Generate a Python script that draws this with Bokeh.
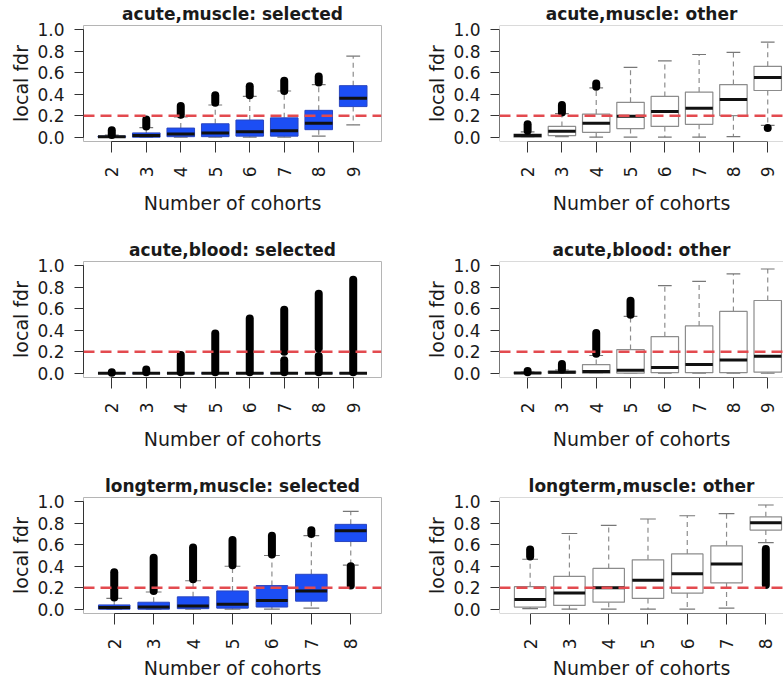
from bokeh.plotting import figure
from bokeh.models import Range1d, FixedTicker, NumeralTickFormatter, Span
from bokeh.layouts import column, row
from bokeh.embed import file_html
from bokeh.resources import INLINE
import math

# ---------------- data ----------------
cohorts_9 = ["2", "3", "4", "5", "6", "7", "8", "9"]
cohorts_8 = ["2", "3", "4", "5", "6", "7", "8"]

# acute, muscle: selected
am_sel_q1 = [0.00, 0.00, 0.005, 0.005, 0.01, 0.01, 0.07, 0.285]
am_sel_med = [0.005, 0.015, 0.03, 0.04, 0.05, 0.06, 0.13, 0.363]
am_sel_q3 = [0.01, 0.04, 0.085, 0.125, 0.16, 0.18, 0.25, 0.48]
am_sel_wlo = [0.0, 0.0, 0.0, 0.0, 0.0, 0.0, 0.01, 0.115]
am_sel_whi = [0.02, 0.09, 0.19, 0.30, 0.38, 0.43, 0.49, 0.754]
am_sel_out_cat = ["2", "3", "4", "5", "6", "7", "8"]
am_sel_out_lo = [0.02, 0.10, 0.21, 0.32, 0.39, 0.43, 0.51]
am_sel_out_hi = [0.065, 0.165, 0.29, 0.39, 0.475, 0.525, 0.565]

# acute, muscle: other
am_oth_q1 = [0.0, 0.015, 0.045, 0.08, 0.10, 0.12, 0.20, 0.435]
am_oth_med = [0.015, 0.055, 0.13, 0.195, 0.24, 0.27, 0.35, 0.555]
am_oth_q3 = [0.03, 0.10, 0.215, 0.325, 0.38, 0.42, 0.49, 0.66]
am_oth_wlo = [0.0, 0.005, 0.0, 0.0, 0.0, 0.0, 0.005, 0.11]
am_oth_whi = [0.05, 0.22, 0.46, 0.65, 0.71, 0.77, 0.79, 0.885]
am_oth_out_cat = ["2", "3", "4", "9"]
am_oth_out_lo = [0.06, 0.23, 0.47, 0.085]
am_oth_out_hi = [0.12, 0.30, 0.50, 0.085]

# acute, blood: selected
ab_sel_q1 = [0.0, 0.0, 0.0, 0.0, 0.0, 0.0, 0.0, 0.0]
ab_sel_med = [0.0, 0.0, 0.0, 0.0, 0.0, 0.0, 0.0, 0.0]
ab_sel_q3 = [0.0, 0.0, 0.0, 0.0, 0.0, 0.0, 0.0, 0.0]
ab_sel_wlo = [0.0, 0.0, 0.0, 0.0, 0.0, 0.0, 0.0, 0.0]
ab_sel_whi = [0.0, 0.0, 0.0, 0.0, 0.0, 0.0, 0.0, 0.0]
ab_sel_out_cat = ["2", "3", "4", "5", "6", "7", "7", "8", "8", "9"]
ab_sel_out_lo = [0.005, 0.01, 0.01, 0.01, 0.01, 0.01, 0.20, 0.01, 0.23, 0.01]
ab_sel_out_hi = [0.01, 0.035, 0.17, 0.37, 0.51, 0.12, 0.59, 0.16, 0.74, 0.87]

# acute, blood: other
ab_oth_q1 = [0.0, 0.0, 0.0, 0.0, 0.005, 0.005, 0.005, 0.01]
ab_oth_med = [0.003, 0.01, 0.015, 0.028, 0.052, 0.08, 0.122, 0.157]
ab_oth_q3 = [0.005, 0.02, 0.08, 0.22, 0.34, 0.44, 0.575, 0.677]
ab_oth_wlo = [0.0, 0.0, 0.0, 0.0, 0.0, 0.0, 0.0, 0.0]
ab_oth_whi = [0.01, 0.03, 0.165, 0.53, 0.815, 0.855, 0.924, 0.97]
ab_oth_out_cat = ["2", "3", "4", "5"]
ab_oth_out_lo = [0.01, 0.035, 0.18, 0.545]
ab_oth_out_hi = [0.02, 0.085, 0.375, 0.675]

# longterm, muscle: selected
lm_sel_q1 = [0.0, 0.0, 0.005, 0.01, 0.02, 0.075, 0.63]
lm_sel_med = [0.015, 0.02, 0.03, 0.045, 0.08, 0.17, 0.73]
lm_sel_q3 = [0.04, 0.065, 0.115, 0.17, 0.22, 0.325, 0.79]
lm_sel_wlo = [0.0, 0.0, 0.0, 0.0, 0.0, 0.01, 0.41]
lm_sel_whi = [0.10, 0.16, 0.265, 0.40, 0.50, 0.685, 0.91]
lm_sel_out_cat = ["2", "3", "4", "5", "6", "7", "8"]
lm_sel_out_lo = [0.11, 0.17, 0.28, 0.41, 0.51, 0.70, 0.22]
lm_sel_out_hi = [0.345, 0.48, 0.575, 0.645, 0.685, 0.735, 0.40]

# longterm, muscle: other
lm_oth_q1 = [0.02, 0.035, 0.065, 0.10, 0.15, 0.245, 0.737]
lm_oth_med = [0.09, 0.15, 0.20, 0.27, 0.33, 0.42, 0.805]
lm_oth_q3 = [0.21, 0.305, 0.38, 0.46, 0.515, 0.59, 0.86]
lm_oth_wlo = [0.005, 0.0, 0.0, 0.0, 0.0, 0.01, 0.62]
lm_oth_whi = [0.465, 0.705, 0.78, 0.84, 0.87, 0.89, 0.97]
lm_oth_out_cat = ["2", "8"]
lm_oth_out_lo = [0.49, 0.225]
lm_oth_out_hi = [0.555, 0.56]

threshold = 0.2
y_ticks = [0.0, 0.2, 0.4, 0.6, 0.8, 1.0]

# ---------------- styling ----------------
FONT = "DejaVu Sans"
BLUE = "#1c4ef4"
BLUE_EDGE = "#2a46c0"
GREY = "#8c8c8c"
FRAME = "#b5b5b5"
TXT = "#1a1a1a"


def make_panel(title, cats, q1, med, q3, wlo, whi, oc, olo, ohi, selected,
               width, height, mbl, mbr, mbb, x_start, x_end, right_side, xlab_standoff):
    p = figure(width=width, height=height,
               x_range=Range1d(x_start, x_end), y_range=Range1d(-0.04, 1.04),
               output_backend="svg", toolbar_location=None,
               min_border_left=mbl, min_border_right=mbr,
               min_border_top=25, min_border_bottom=mbb)
    p.grid.visible = False
    p.background_fill_color = "white"
    p.border_fill_color = "white"
    if right_side:
        p.outline_line_color = None
        for loc in (1.04, -0.04):
            p.add_layout(Span(location=loc, dimension="width", line_color=FRAME, line_width=1))
        p.add_layout(Span(location=x_start, dimension="height", line_color=FRAME, line_width=1))
    else:
        p.outline_line_color = FRAME
        p.outline_line_width = 1

    p.title.text = title
    p.title.text_font = FONT
    p.title.text_font_size = "17px"
    p.title.text_font_style = "bold"
    p.title.text_color = TXT
    p.title.align = "center"
    p.title.standoff = 3

    n = len(cats)
    xs = [cats.index(c) + 1 for c in cats]
    left = [x - 0.4 for x in xs]
    right = [x + 0.4 for x in xs]
    cl = [x - 0.2 for x in xs]
    cr = [x + 0.2 for x in xs]

    # whiskers (dashed)
    p.segment(x0=xs, y0=q3, x1=xs, y1=whi, line_color=GREY, line_width=1.2, line_dash="5 4")
    p.segment(x0=xs, y0=q1, x1=xs, y1=wlo, line_color=GREY, line_width=1.2, line_dash="5 4")
    # staples
    p.segment(x0=cl, y0=whi, x1=cr, y1=whi, line_color="#777777", line_width=1.2)
    p.segment(x0=cl, y0=wlo, x1=cr, y1=wlo, line_color="#777777", line_width=1.2)
    # boxes
    if selected:
        p.quad(left=left, right=right, bottom=q1, top=q3, fill_color=BLUE,
               line_color=BLUE_EDGE, line_width=1)
    else:
        p.quad(left=left, right=right, bottom=q1, top=q3, fill_color="white",
               line_color=GREY, line_width=1.2)
    # medians
    p.segment(x0=left, y0=med, x1=right, y1=med, line_color="#111111", line_width=3)
    # outliers (dense columns of points)
    ox = [cats.index(c) + 1 for c in oc]
    p.segment(x0=ox, y0=olo, x1=ox, y1=ohi, line_color="black", line_width=8,
              line_cap="round")

    # threshold line
    p.add_layout(Span(location=threshold, dimension="width", line_color="#e34a4f",
                      line_width=2.5, line_dash="11 6"))

    # x axis
    xa = p.xaxis[0]
    xa.ticker = FixedTicker(ticks=xs)
    xa.major_label_overrides = {x: c for x, c in zip(xs, cats)}
    xa.bounds = (1, n)
    xa.major_label_orientation = math.pi / 2
    xa.axis_label = "Number of cohorts"
    xa.axis_label_text_font = FONT
    xa.axis_label_text_font_size = "19px"
    xa.axis_label_text_font_style = "normal"
    xa.axis_label_text_color = TXT
    xa.axis_label_standoff = xlab_standoff
    xa.major_label_text_font = FONT
    xa.major_label_text_font_size = "17px"
    xa.major_label_text_color = TXT
    xa.major_label_standoff = 14
    xa.major_tick_out = 11
    xa.major_tick_in = 0
    xa.minor_tick_out = 0
    xa.minor_tick_in = 0
    xa.axis_line_color = "#333333"
    xa.major_tick_line_color = "#333333"

    # y axis
    ya = p.yaxis[0]
    ya.ticker = FixedTicker(ticks=y_ticks)
    ya.formatter = NumeralTickFormatter(format="0.0")
    ya.bounds = (0, 1)
    ya.axis_label = "local fdr"
    ya.axis_label_text_font = FONT
    ya.axis_label_text_font_size = "19px"
    ya.axis_label_text_font_style = "normal"
    ya.axis_label_text_color = TXT
    ya.axis_label_standoff = 2
    ya.major_label_text_font = FONT
    ya.major_label_text_font_size = "17px"
    ya.major_label_text_color = TXT
    ya.major_label_standoff = 10
    ya.major_tick_out = 9
    ya.major_tick_in = 0
    ya.minor_tick_out = 0
    ya.minor_tick_in = 0
    ya.axis_line_color = "#333333"
    ya.major_tick_line_color = "#333333"
    return p


LW, RW = 392, 391
H1, H2, H3 = 236, 236, 214

p1 = make_panel("acute,muscle: selected", cohorts_9, am_sel_q1, am_sel_med, am_sel_q3,
                am_sel_wlo, am_sel_whi, am_sel_out_cat, am_sel_out_lo, am_sel_out_hi, True,
                LW, H1, 83, 11, 95, 0.18, 8.82, False, 12)
p2 = make_panel("acute,muscle: other", cohorts_9, am_oth_q1, am_oth_med, am_oth_q3,
                am_oth_wlo, am_oth_whi, am_oth_out_cat, am_oth_out_lo, am_oth_out_hi, False,
                RW, H1, 107, 0, 95, 0.18, 8.46, True, 12)
p3 = make_panel("acute,blood: selected", cohorts_9, ab_sel_q1, ab_sel_med, ab_sel_q3,
                ab_sel_wlo, ab_sel_whi, ab_sel_out_cat, ab_sel_out_lo, ab_sel_out_hi, True,
                LW, H2, 83, 11, 95, 0.18, 8.82, False, 12)
p4 = make_panel("acute,blood: other", cohorts_9, ab_oth_q1, ab_oth_med, ab_oth_q3,
                ab_oth_wlo, ab_oth_whi, ab_oth_out_cat, ab_oth_out_lo, ab_oth_out_hi, False,
                RW, H2, 107, 0, 95, 0.18, 8.46, True, 12)
p5 = make_panel("longterm,muscle: selected", cohorts_8, lm_sel_q1, lm_sel_med, lm_sel_q3,
                lm_sel_wlo, lm_sel_whi, lm_sel_out_cat, lm_sel_out_lo, lm_sel_out_hi, True,
                LW, H3, 83, 11, 73, 0.22, 7.78, False, 5)
p6 = make_panel("longterm,muscle: other", cohorts_8, lm_oth_q1, lm_oth_med, lm_oth_q3,
                lm_oth_wlo, lm_oth_whi, lm_oth_out_cat, lm_oth_out_lo, lm_oth_out_hi, False,
                RW, H3, 107, 0, 73, 0.22, 7.45, True, 5)

layout = column(row(p1, p2), row(p3, p4), row(p5, p6))

open("out.html", "w").write(file_html(layout, INLINE))
